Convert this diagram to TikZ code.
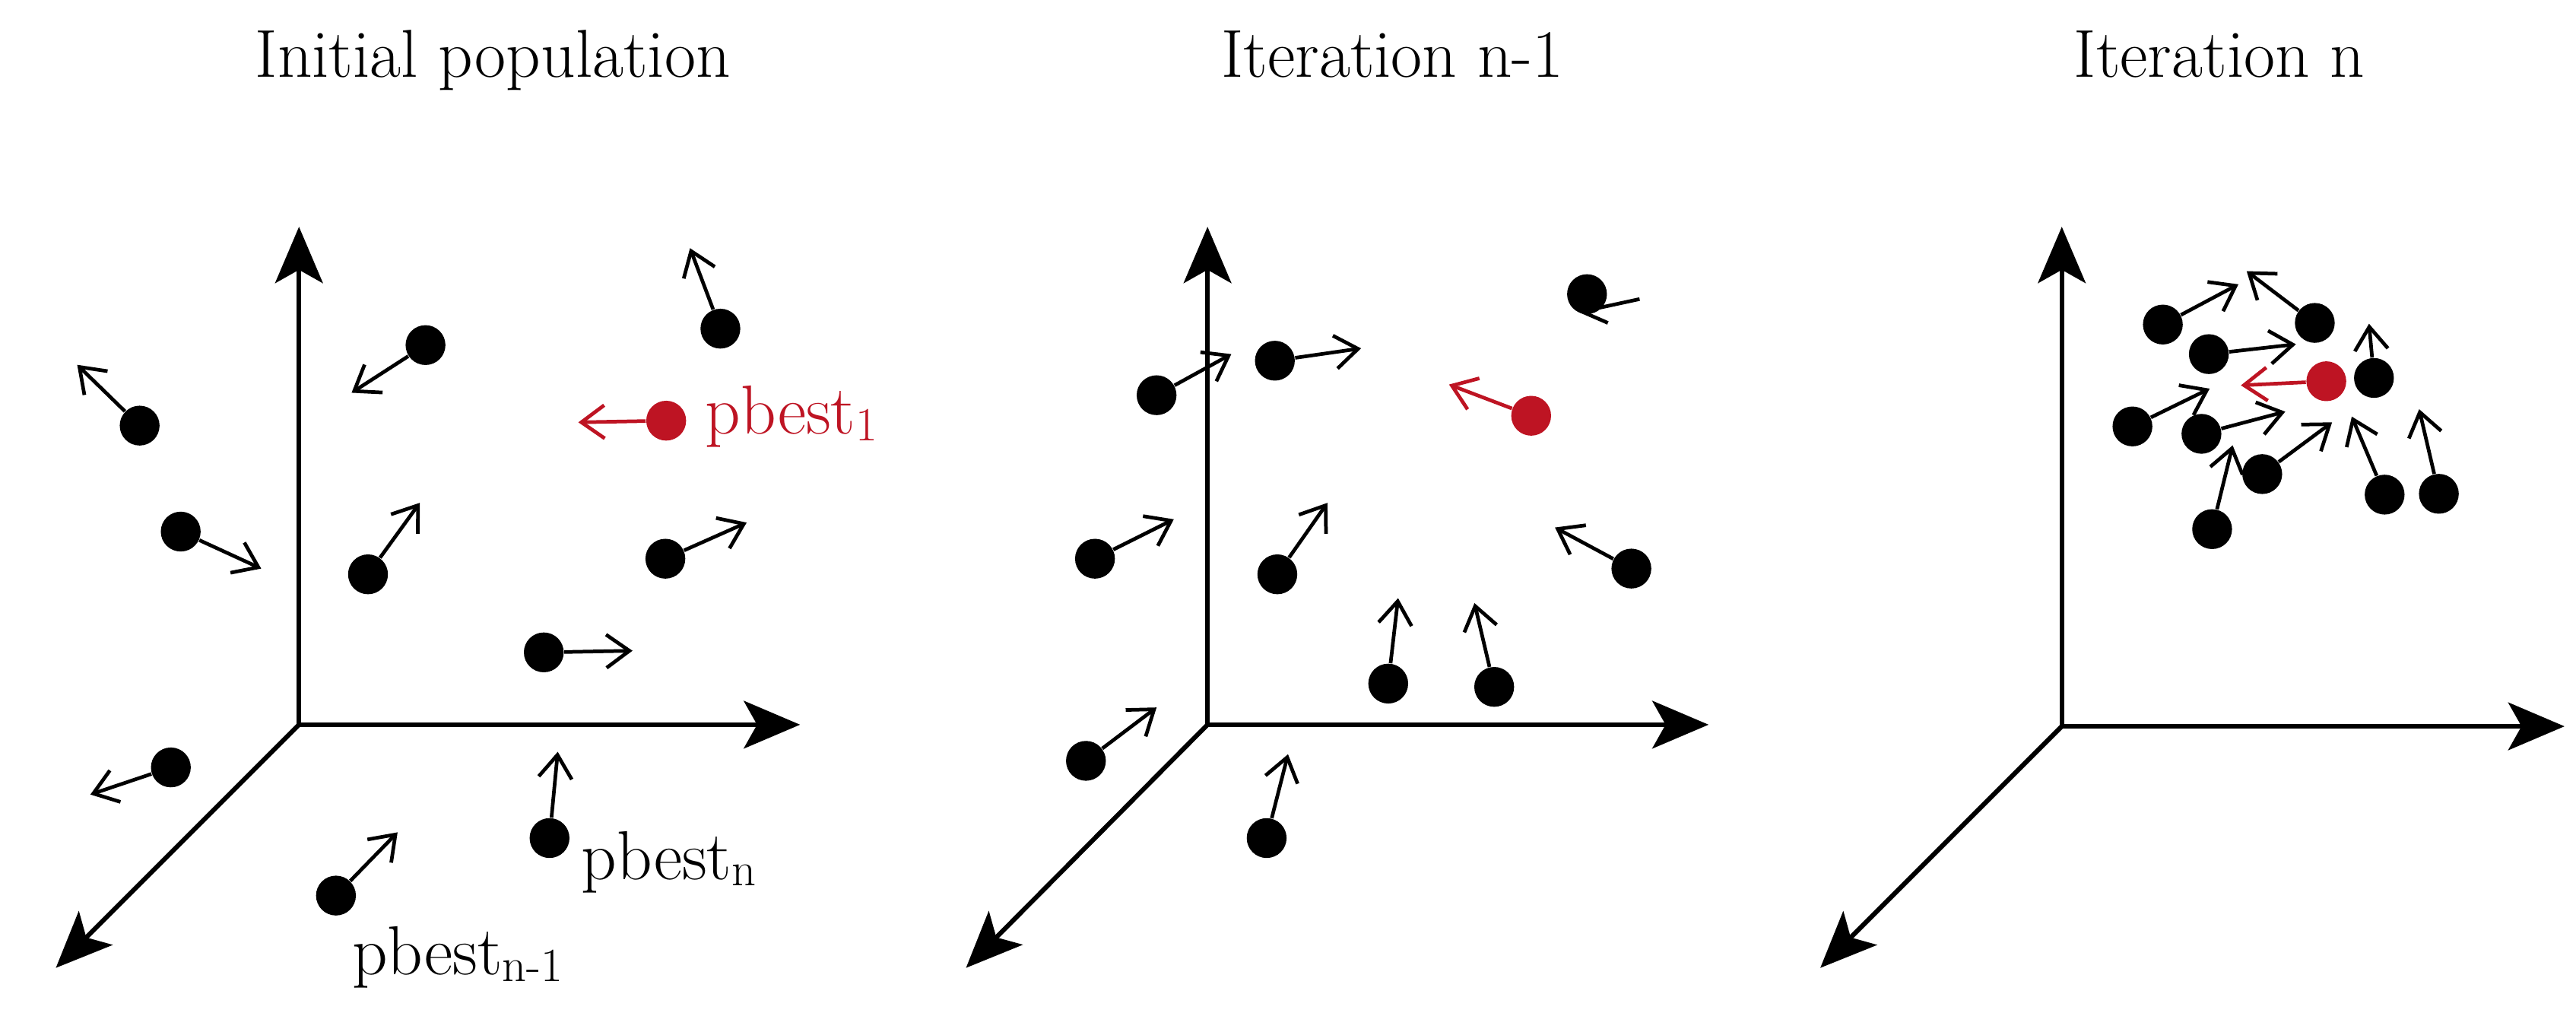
\documentclass[tikz,border=0pt]{standalone}
\usetikzlibrary{arrows.meta}
\definecolor{pbred}{RGB}{190,20,35}
\newcommand{\pbsub}[1]{\raisebox{-2.3pt}{\fontsize{16.5}{16.5}\selectfont #1}}
\begin{document}
\begin{tikzpicture}[x=0.02cm,y=-0.02cm,
  axis/.style={line width=1.6pt, line cap=round},
  bighead/.tip={Stealth[length=19.5pt,width=16.5pt,inset=4.6pt]},
  vel/.style={line width=1.25pt, -{Straight Barb[length=8pt,width=11.5pt]}},
  dot/.style={circle, fill=black, inner sep=0pt, minimum size=13.8pt},
  rdot/.style={dot, fill=pbred},
  title/.style={anchor=base, inner sep=0pt, font=\fontsize{23.5}{27}\selectfont},
  lab/.style={anchor=base west, inner sep=0pt, font=\fontsize{24}{27}\selectfont}]
\useasboundingbox (0,0) rectangle (1568,616);

% titles
\node[title] (t1) at (300,47) {Initial population};
\node[title] (t2) at (847.7,47) {Iteration n-1};
\node[title] (t3) at (1351,47) {Iteration n};

% axes
\coordinate (o1) at (182,441); \coordinate (y1) at (182,138);
\coordinate (x1) at (487,441); \coordinate (d1) at (34,589);
\coordinate (o2) at (735,441); \coordinate (y2) at (735,138);
\coordinate (x2) at (1040,441); \coordinate (d2) at (588,589);
\coordinate (o3) at (1255,442); \coordinate (y3) at (1255,138);
\coordinate (x3) at (1561,442); \coordinate (d3) at (1108,589);
\foreach \k in {1,2,3}{
  \draw[axis, bighead-bighead] (y\k) -- (o\k) -- (x\k);
  \draw[axis, -bighead] (o\k) -- (d\k);
}

% panel 1 particles
\foreach \n/\x/\y/\u/\v in {
  1a/85/259/47/222, 1b/259/210/214/239, 1c/438.5/200/420/151,
  1d/110/323.5/159/346, 1e/224/349.5/255.5/306, 1f/405/340/454.5/318,
  1g/331/397/385/396, 1h/104/467/55/483.5, 1i/334.5/510/339.5/457.5,
  1j/204.5/545/242/506.5}{
  \node[dot] (p\n) at (\x,\y) {};
  \coordinate (t\n) at (\u,\v);
  \draw[vel] (p\n) -- (t\n);
}
\node[rdot] (p1r) at (405.5,256) {};
\coordinate (t1r) at (352,257);
\draw[vel, pbred] (p1r) -- (t1r);
\node[lab, text=pbred] (l1r) at (429,264) {pbest\pbsub{1}};
\node[lab] (l1i) at (353.5,535) {pbest\pbsub{n}};
\node[lab] (l1j) at (214,593) {pbest\pbsub{n-1}};

% panel 2 particles
\coordinate (s2c) at (998,182); \coordinate (t2c) at (961,190);
\draw[vel] (s2c) -- (t2c);
\node[dot] (p2c) at (966,179) {};
\foreach \n/\x/\y/\u/\v in {
  2a/704/240.5/749.5/215.5, 2b/776/219.5/828.5/212,
  2d/666.5/340/714.5/316, 2e/777.5/349.5/808/306, 2f/993/346/946.5/321,
  2g/845/416/851/364, 2h/909.5/418/897.5/367, 2i/661/463/704/430.5,
  2j/771/510/784/459}{
  \node[dot] (p\n) at (\x,\y) {};
  \coordinate (t\n) at (\u,\v);
  \draw[vel] (p\n) -- (t\n);
}
\node[rdot] (p2r) at (932,253) {};
\coordinate (t2r) at (882,234);
\draw[vel, pbred] (p2r) -- (t2r);

% panel 3 particles
\foreach \n/\x/\y/\u/\v in {
  3a/1316.5/197.5/1362.5/173, 3b/1409/196.5/1367.5/165,
  3c/1344.5/215.5/1397.5/209.5, 3d/1445/230/1442/197,
  3e/1298/259.5/1345/236.5, 3f/1340/264/1391/250.5,
  3g/1377/288.5/1419.5/257, 3h/1346.5/322/1359/271,
  3i/1451.5/301/1431.5/253.5, 3k/1484.5/300.5/1472.5/249}{
  \node[dot] (p\n) at (\x,\y) {};
  \coordinate (t\n) at (\u,\v);
  \draw[vel] (p\n) -- (t\n);
}
\node[rdot] (p3r) at (1416,232) {};
\coordinate (t3r) at (1364,234.5);
\draw[vel, pbred] (p3r) -- (t3r);
\end{tikzpicture}
\end{document}
